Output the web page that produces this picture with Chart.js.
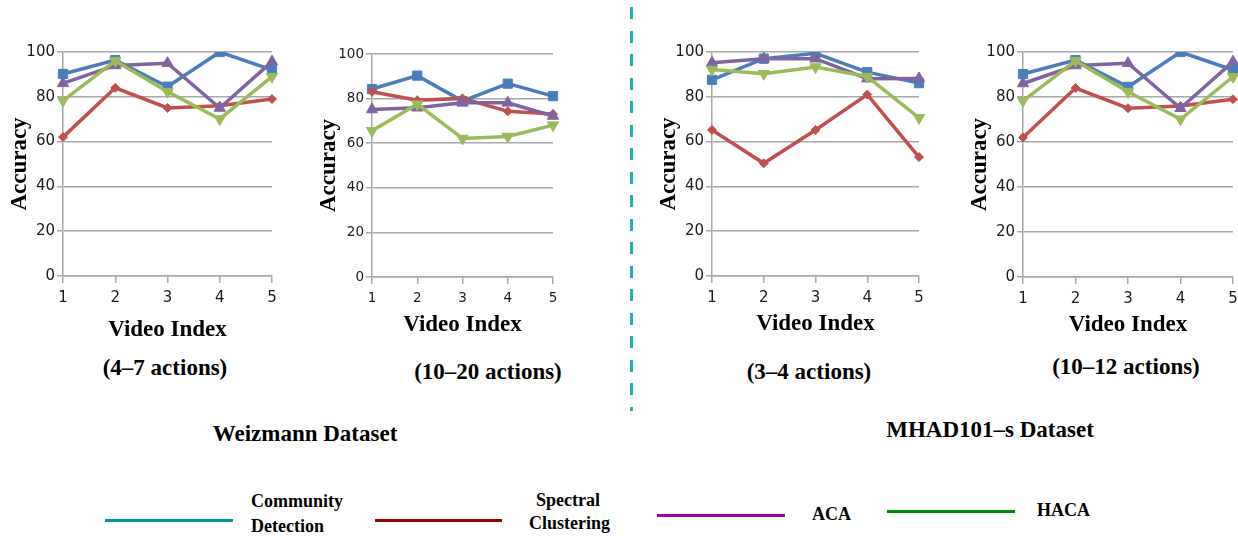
<!DOCTYPE html>
<html>
<head>
<meta charset="utf-8">
<script src="https://cdn.jsdelivr.net/npm/chart.js@4.4.0/dist/chart.umd.min.js"></script>
<style>
  body { margin: 0; width: 1238px; height: 536px; overflow: hidden; background: #fff; position: relative; }
  canvas { position: absolute; }
  .t { position: absolute; font-family: "Liberation Serif", serif; font-weight: bold; color: #000;
       transform: translate(-50%, -50%); white-space: nowrap; line-height: 1; }
  .lg { position: absolute; font-family: "Liberation Serif", serif; font-weight: bold; color: #000;
        font-size: 18px; line-height: 1; white-space: nowrap; transform: translateY(-50%); }
  .ln { position: absolute; height: 3px; }
  #sep { position: absolute; left: 630px; top: 7px; width: 3px; height: 404px;
         background: repeating-linear-gradient(to bottom, #1db3ac 0 12px, transparent 12px 23.5px); }
</style>
</head>
<body>
<canvas id="c1"></canvas>
<canvas id="c2"></canvas>
<canvas id="c3"></canvas>
<canvas id="c4"></canvas>

<div id="sep"></div>

<div class="t" style="left:165px; top:367px; font-size:23px;">(4–7 actions)</div>
<div class="t" style="left:488px; top:371px; font-size:23px;">(10–20 actions)</div>
<div class="t" style="left:809px; top:371px; font-size:23px;">(3–4 actions)</div>
<div class="t" style="left:1126px; top:366px; font-size:23px;">(10–12 actions)</div>
<div class="t" style="left:305px; top:433px; font-size:23px;">Weizmann Dataset</div>
<div class="t" style="left:990px; top:429px; font-size:23px;">MHAD101–s Dataset</div>

<div class="ln" style="left:105px; top:519px; width:128px; background:#009999;"></div>
<div class="lg" style="left:251px; top:501px;">Community</div>
<div class="lg" style="left:251px; top:526px;">Detection</div>
<div class="ln" style="left:375px; top:519px; width:127px; background:#990000;"></div>
<div class="lg" style="left:536px; top:500px;">Spectral</div>
<div class="lg" style="left:529px; top:523px;">Clustering</div>
<div class="ln" style="left:657px; top:514px; width:128px; background:#a000a0;"></div>
<div class="lg" style="left:812px; top:514px;">ACA</div>
<div class="ln" style="left:887px; top:510px; width:128px; background:#008c00;"></div>
<div class="lg" style="left:1037px; top:510px;">HACA</div>

<script>
const videoIdx = ["1", "2", "3", "4", "5"];
const yTicks = [0, 20, 40, 60, 80, 100];
const methods = ["Community Detection", "Spectral Clustering", "ACA", "HACA"];

// Weizmann, 4-7 actions
const wz47Community = [90.2, 96.4, 84.5, 100, 92];
const wz47Spectral  = [62, 84, 75, 76, 79];
const wz47Aca       = [86, 94, 95, 75, 95.7];
const wz47Haca      = [78.3, 96.1, 82.3, 70.1, 89];

// Weizmann, 10-20 actions
const wz1020Community = [84.3, 90.3, 78.9, 86.7, 81.1];
const wz1020Spectral  = [83.1, 79.3, 80.1, 74.3, 73.1];
const wz1020Aca       = [75.1, 75.9, 78.1, 78.1, 72.2];
const wz1020Haca      = [65.6, 77.5, 62.1, 63, 68.1];

// MHAD101-s, 3-4 actions
const mh34Community = [87.6, 97, 99.4, 91, 86.1];
const mh34Spectral  = [65.2, 50.3, 65.2, 81, 53.1];
const mh34Aca       = [95.2, 97, 97, 88.1, 88.2];
const mh34Haca      = [92.2, 90.3, 93.3, 89, 70.6];

// MHAD101-s, 10-12 actions
const mh1012Community = [90.2, 96.4, 84.5, 100, 92];
const mh1012Spectral  = [62, 84, 75, 76, 79];
const mh1012Aca       = [86, 94, 95, 75, 95.7];
const mh1012Haca      = [78.3, 96.1, 82.3, 70.1, 89];

const looks = [
  { color: "#4a7ebb", shape: "rect", r: 6.5, rot: 0 },
  { color: "#c0504d", shape: "rectRot", r: 4.5, rot: 0 },
  { color: "#8064a2", shape: "triangle", r: 6.5, rot: 0 },
  { color: "#9bbb59", shape: "triangle", r: 6.5, rot: 180 }
];

const gridCol = "#a8a8a8";

function makeChart(id, box, series) {
  const cv = document.getElementById(id);
  const padTop = 14, padRight = 12, yW = 63, xH = 70;
  cv.width = box.r - box.l + yW + padRight;
  cv.height = box.b - box.t + padTop + xH;
  cv.style.left = (box.l - yW) + "px";
  cv.style.top = (box.t - padTop) + "px";

  const tickFont = { family: box.tf || "DejaVu Sans", size: box.ts || 15 };

  new Chart(cv, {
    type: "line",
    data: {
      labels: videoIdx,
      datasets: series.map((d, i) => ({
        label: methods[i],
        data: d,
        borderColor: looks[i].color,
        backgroundColor: looks[i].color,
        borderWidth: 3.5,
        pointStyle: looks[i].shape,
        pointRadius: looks[i].r,
        pointRotation: looks[i].rot,
        pointBorderWidth: 1,
        tension: 0,
        order: 3 - i
      }))
    },
    options: {
      responsive: false,
      animation: false,
      devicePixelRatio: 1,
      layout: { padding: { top: padTop, right: padRight, left: 0, bottom: 0 } },
      plugins: { legend: { display: false }, tooltip: { enabled: false } },
      scales: {
        x: {
          offset: false,
          grid: { drawOnChartArea: false, tickLength: 7, color: gridCol, lineWidth: 1.5 },
          border: { display: true, color: gridCol, width: 1.5 },
          ticks: { font: tickFont, color: "#1a1a1a", padding: 6, maxRotation: 0 },
          title: {
            display: true, text: "Video Index", color: "#000",
            font: { family: "Liberation Serif", size: 23, weight: "bold" },
            padding: { top: 0, bottom: box.tpb }
          },
          afterFit: s => { s.height = xH; }
        },
        y: {
          min: 0, max: 100,
          afterBuildTicks: s => { s.ticks = yTicks.map(v => ({ value: v })); },
          grid: { color: gridCol, lineWidth: 1.5, tickLength: 6 },
          border: { color: gridCol, width: 1.5 },
          ticks: { font: tickFont, color: "#1a1a1a", padding: 2 },
          title: {
            display: true, text: "Accuracy", color: "#000",
            font: { family: "Liberation Serif", size: 23, weight: "bold" },
            padding: { top: 6, bottom: 0 }
          },
          afterFit: s => { s.width = yW; }
        }
      }
    }
  });
}

makeChart("c1", { l: 63, t: 52, r: 272, b: 276, tpb: 2 },
  [wz47Community, wz47Spectral, wz47Aca, wz47Haca]);
makeChart("c2", { l: 372, t: 54, r: 553, b: 277, tpb: 8, ts: 13.5 },
  [wz1020Community, wz1020Spectral, wz1020Aca, wz1020Haca]);
makeChart("c3", { l: 712, t: 52, r: 919, b: 276, tpb: 8 },
  [mh34Community, mh34Spectral, mh34Aca, mh34Haca]);
makeChart("c4", { l: 1023, t: 52, r: 1233, b: 277, tpb: 8 },
  [mh1012Community, mh1012Spectral, mh1012Aca, mh1012Haca]);
</script>
</body>
</html>
